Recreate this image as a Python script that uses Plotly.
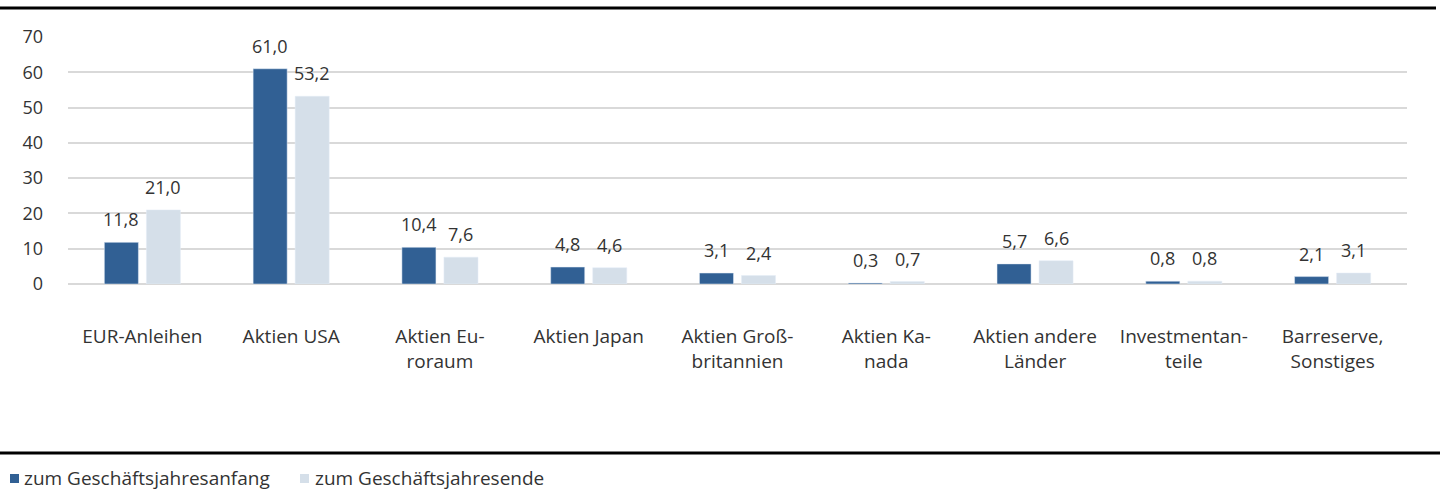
import plotly.graph_objects as go

categories = ["EUR-Anleihen", "Aktien USA", "Aktien Eu-<br>roraum", "Aktien Japan",
              "Aktien Groß-<br>britannien", "Aktien Ka-<br>nada", "Aktien andere<br>Länder",
              "Investmentan-<br>teile", "Barreserve,<br>Sonstiges"]
start_values = [11.8, 61.0, 10.4, 4.8, 3.1, 0.3, 5.7, 0.8, 2.1]
end_values = [21.0, 53.2, 7.6, 4.6, 2.4, 0.7, 6.6, 0.8, 3.1]
series_names = ["zum Geschäftsjahresanfang", "zum Geschäftsjahresende"]
series_colors = ["#316094", "#d5dfe9"]
y_ticks = [0, 10, 20, 30, 40, 50, 60, 70]

FONT = "'Open Sans', sans-serif"
TXT = "#333333"

W, H = 1440, 491
L, R, T, B = 68, 33, 37, 207
pw, ph = W - L - R, H - T - B


def px_x(p):
    return (p - L) / pw


def px_y(p):
    return (H - B - p) / ph


fig = go.Figure()
for name, vals, col in zip(series_names, [start_values, end_values], series_colors):
    fig.add_trace(go.Bar(x=categories, y=vals, name=name, marker_color=col,
                         showlegend=False, hoverinfo="x+y"))

# data labels (placed above each bar via the axes)
slot = pw / len(categories) * (1 - 0.435) / 2
for vals, sgn in [(start_values, -1), (end_values, 1)]:
    for c, v in zip(categories, vals):
        fig.add_annotation(x=c, y=v, xref="x", yref="y", text=f"{v:.1f}".replace(".", ","),
                           showarrow=False, xshift=sgn * slot / 2, yanchor="bottom", yshift=9,
                           font=dict(size=18, color=TXT, family=FONT))

fig.update_layout(
    width=W, height=H,
    margin=dict(l=L, r=R, t=T, b=B),
    plot_bgcolor="white", paper_bgcolor="white",
    separators=",.",
    barmode="group", bargap=0.435, bargroupgap=0.19,
    font=dict(family=FONT, size=18, color=TXT),
    showlegend=False,
)
fig.update_yaxes(range=[0, 70], tickvals=y_ticks, showgrid=True, gridcolor="#d9d9d9", gridwidth=2,
                 zeroline=True, zerolinecolor="#d9d9d9", zerolinewidth=2, showline=False,
                 ticks="", ticklabelstandoff=24, tickfont=dict(size=18, color=TXT))
fig.update_xaxes(showline=False, ticks="", ticklabelstandoff=39, tickfont=dict(size=19, color=TXT))

# legend drawn as marker squares + text
legend_pos = [(10, 25), (300, 316)]
for (mx, tx), name, col in zip(legend_pos, series_names, series_colors):
    fig.add_shape(type="rect", xref="paper", yref="paper", x0=px_x(mx), x1=px_x(mx + 9),
                  y0=px_y(483), y1=px_y(474), fillcolor=col, line=dict(width=0))
    fig.add_annotation(xref="paper", yref="paper", x=px_x(tx - 2), y=px_y(478), xanchor="left",
                       yanchor="middle", showarrow=False, text=name, borderpad=0,
                       font=dict(size=19, color=TXT, family=FONT))

fig.add_shape(type="line", xref="paper", yref="paper", x0=px_x(0), x1=px_x(1436),
              y0=px_y(8), y1=px_y(8), line=dict(color="black", width=3))
fig.add_shape(type="line", xref="paper", yref="paper", x0=px_x(0), x1=px_x(1440),
              y0=px_y(453), y1=px_y(453), line=dict(color="black", width=3))

fig.write_html("out.html", config={"displayModeBar": False},
               post_script="document.body.style.margin='0px';")
